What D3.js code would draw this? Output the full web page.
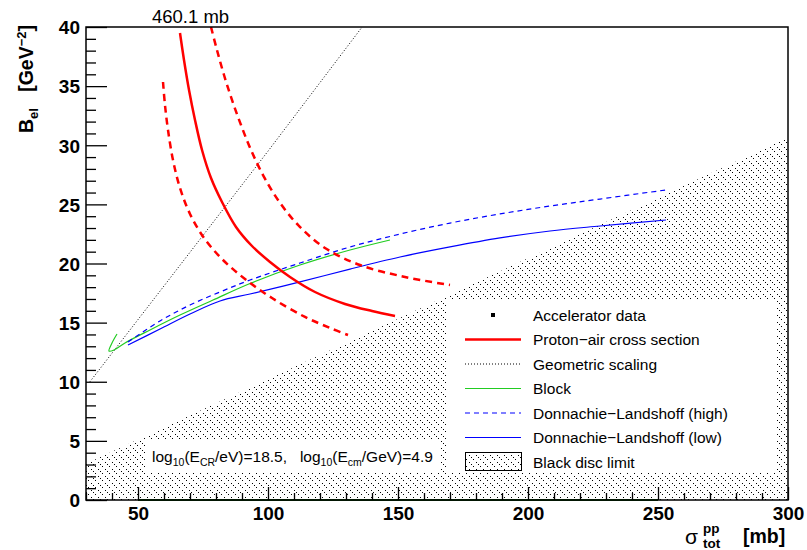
<!DOCTYPE html>
<html><head><meta charset="utf-8">
<script src="https://cdn.jsdelivr.net/npm/d3@7"></script>
<style>
body{margin:0;background:#fff}
svg{display:block}
text{font-family:"Liberation Sans",Arial,Helvetica,sans-serif}
</style>
</head><body>
<svg id="c" width="807" height="550"></svg>
<script>
// ---------- data (sigma_tot^pp [mb], B_el [GeV^-2]) ----------
const protonAir = [[66.15,39.49],[67.69,37.21],[69.62,34.67],[71.92,32.14],[74.62,29.60],[78.08,27.23],[82.31,25.20],[87.69,23.09],[93.85,21.48],[100.77,20.13],[108.46,18.86],[118.08,17.59],[129.62,16.58],[140.0,15.98],[148.85,15.56]];
const protonAirLow = [[59.62,35.35],[60.38,33.40],[61.54,31.29],[63.46,28.75],[66.15,26.39],[70.0,24.19],[75.38,22.16],[82.31,20.38],[91.15,18.69],[101.54,17.08],[114.23,15.48],[123.85,14.55],[130.77,13.95]];
const protonAirHigh = [[78.08,40.0],[80.38,38.05],[83.08,35.94],[86.15,33.83],[89.62,31.71],[93.46,29.60],[98.08,27.48],[103.85,25.37],[111.54,23.26],[121.92,21.31],[135.38,19.87],[152.69,18.86],[170.0,18.18]];
const geometric = [[31.5,10.0],[60,18.1],[100,29.5],[136.2,40.0]];
const block = [[41.92,14.04],[40.0,13.28],[38.85,12.60],[40.77,12.68],[45.0,13.28],[54.62,14.38],[66.15,15.64],[78.85,16.91],[93.08,18.31],[112.31,19.87],[131.54,21.14],[146.92,21.99]];
const dlHigh = [[46.15,13.36],[58.46,15.14],[70.0,16.49],[81.54,17.59],[93.08,18.60],[112.31,20.04],[131.54,21.40],[150.77,22.49],[170.0,23.42],[189.23,24.19],[208.46,24.86],[227.69,25.45],[253.08,26.22]];
const dlLow = [[46.15,13.11],[58.46,14.46],[70.0,15.73],[81.54,16.83],[93.08,17.42],[112.31,18.44],[131.54,19.53],[150.77,20.55],[170.0,21.40],[189.23,22.16],[208.46,22.75],[227.69,23.17],[253.08,23.68]];
const acceleratorBase = [[50,0],[250,0]];
const blackDisc = [[30,0],[30,3.066],[300,30.66],[300,0]];
const xMajorTicks = [50,100,150,200,250,300];
const yMajorTicks = [0,5,10,15,20,25,30,35,40];
const legendLabels = ["Accelerator data","Proton\u2212air cross section","Geometric scaling","Block","Donnachie\u2212Landshoff (high)","Donnachie\u2212Landshoff (low)","Black disc limit"];

// ---------- layout ----------
const svg = d3.select("#c");
const x = d3.scaleLinear().domain([30,300]).range([86,788]);
const y = d3.scaleLinear().domain([0,40]).range([500,27]);

const defs = svg.append("defs");
const pat = defs.append("pattern").attr("id","hatch").attr("patternUnits","userSpaceOnUse")
  .attr("width",7).attr("height",7);
[[0,0],[2,2],[4,4]].forEach(p=>pat.append("rect").attr("x",p[0]).attr("y",p[1]).attr("width",1).attr("height",1).attr("fill","#000"));
defs.append("clipPath").attr("id","plotclip").append("rect").attr("x",86).attr("y",27).attr("width",702).attr("height",473);

const line = d3.line().x(d=>x(d[0])).y(d=>y(d[1])).curve(d3.curveCatmullRom.alpha(0.5));
const straight = d3.line().x(d=>x(d[0])).y(d=>y(d[1]));

const plot = svg.append("g").attr("clip-path","url(#plotclip)");
// black disc hatch
plot.append("path").attr("d",straight(blackDisc)+"Z").attr("fill","url(#hatch)").attr("stroke","none");

// annotation box
plot.append("rect").attr("x",146).attr("y",440).attr("width",295).attr("height",33).attr("fill","#fff");

// curves
plot.append("path").attr("d",straight(geometric)).attr("fill","none").attr("stroke","#000").attr("stroke-width",1).attr("stroke-dasharray","1,2");
plot.append("path").attr("d",line(block)).attr("fill","none").attr("stroke","#22cc22").attr("stroke-width",1.2);
plot.append("path").attr("d",line(dlHigh)).attr("fill","none").attr("stroke","#0000ff").attr("stroke-width",1.2).attr("stroke-dasharray","5,4");
plot.append("path").attr("d",line(dlLow)).attr("fill","none").attr("stroke","#0000ff").attr("stroke-width",1.2);
plot.append("path").attr("d",line(protonAirLow)).attr("fill","none").attr("stroke","#ff0000").attr("stroke-width",2.5).attr("stroke-dasharray","7,5");
plot.append("path").attr("d",line(protonAirHigh)).attr("fill","none").attr("stroke","#ff0000").attr("stroke-width",2.5).attr("stroke-dasharray","7,5");
plot.append("path").attr("d",line(protonAir)).attr("fill","none").attr("stroke","#ff0000").attr("stroke-width",2.5);

// legend
const lg = svg.append("g");
const lx0 = 446, ly0 = 300, lw = 330, lh = 173;
lg.append("rect").attr("x",lx0).attr("y",ly0).attr("width",lw).attr("height",lh).attr("fill","#fff");
const rowY = d3.scaleLinear().domain([0,6]).range([315,462]);
const styles = [
  {type:"marker"},
  {stroke:"#ff0000",w:2.5,dash:null},
  {stroke:"#000",w:1,dash:"1,2"},
  {stroke:"#22cc22",w:1.2,dash:null},
  {stroke:"#0000ff",w:1.2,dash:"5,4"},
  {stroke:"#0000ff",w:1.2,dash:null},
  {type:"fill"}
];
legendLabels.forEach((lab,i)=>{
  const cy = rowY(i);
  const s = styles[i];
  if(s.type==="marker"){
    lg.append("rect").attr("x",491).attr("y",cy-2).attr("width",4).attr("height",4).attr("fill","#000");
  } else if(s.type==="fill"){
    lg.append("rect").attr("x",465.5).attr("y",cy-9.5).attr("width",56).attr("height",18).attr("fill","url(#hatch)").attr("stroke","#000").attr("stroke-width",1);
  } else {
    const l = lg.append("line").attr("x1",465).attr("x2",521).attr("y1",cy).attr("y2",cy)
      .attr("stroke",s.stroke).attr("stroke-width",s.w);
    if(s.dash) l.attr("stroke-dasharray",s.dash);
  }
  lg.append("text").attr("x",533).attr("y",cy+5.5).attr("font-size",15.5).attr("fill","#000").text(lab);
});

// annotation text
const ann = svg.append("text").attr("x",152).attr("y",462).attr("font-size",15.5).attr("fill","#000").style("white-space","pre");
ann.append("tspan").text("log");
ann.append("tspan").attr("font-size",10.5).attr("dy",4).text("10");
ann.append("tspan").attr("dy",-4).text("(E");
ann.append("tspan").attr("font-size",10.5).attr("dy",4).text("CR");
ann.append("tspan").attr("dy",-4).text("/eV)=18.5,   log");
ann.append("tspan").attr("font-size",10.5).attr("dy",4).text("10");
ann.append("tspan").attr("dy",-4).text("(E");
ann.append("tspan").attr("font-size",10.5).attr("dy",4).text("cm");
ann.append("tspan").attr("dy",-4).text("/GeV)=4.9");

// baseline (dark green)
svg.append("path").attr("d",straight(acceleratorBase)).attr("stroke","#0b5a0b").attr("stroke-width",2).attr("fill","none");

// frame
svg.append("rect").attr("x",86).attr("y",27).attr("width",702).attr("height",473).attr("fill","none").attr("stroke","#000").attr("stroke-width",1.5);

// axes
const xMinor = d3.range(30,301,10).filter(v=>!xMajorTicks.includes(v));
const yMinor = d3.range(0,41,1).filter(v=>v%5!==0);
svg.append("g").attr("transform","translate(0,500)")
  .call(d3.axisBottom(x).tickValues(xMajorTicks).tickSize(-13).tickPadding(7).tickFormat(d3.format("d")));
svg.append("g").attr("transform","translate(0,500)")
  .call(d3.axisBottom(x).tickValues(xMinor).tickSize(-7).tickFormat(""));
const axY = svg.append("g").attr("transform","translate(86,0)")
  .call(d3.axisLeft(y).tickValues(yMajorTicks).tickSize(-21).tickPadding(6).tickFormat(d3.format("d")));
svg.append("g").attr("transform","translate(86,0)")
  .call(d3.axisLeft(y).tickValues(yMinor).tickSize(-10).tickFormat(""));
svg.selectAll(".domain").remove();
svg.selectAll(".tick line").attr("stroke","#000").attr("stroke-width",1.3);
svg.selectAll(".tick text").attr("font-size",19).attr("font-weight","bold").attr("fill","#000")
  .attr("font-family",'"Liberation Sans",Arial,sans-serif');
axY.selectAll(".tick text").attr("dy","0.36em");

// top label
svg.append("text").attr("x",152).attr("y",23).attr("font-size",18.5).attr("fill","#000").text("460.1 mb");

// y title
const yt = svg.append("text").attr("transform","translate(33,25) rotate(-90)").attr("text-anchor","end")
  .attr("font-size",19.5).attr("font-weight","bold").attr("fill","#000").style("white-space","pre");
yt.append("tspan").text("B");
yt.append("tspan").attr("font-size",13).attr("dy",5).text("el");
yt.append("tspan").attr("dy",-5).text("   [GeV");
yt.append("tspan").attr("font-size",13).attr("dy",-7).text("\u22122");
yt.append("tspan").attr("dy",7).text("]");

// x title
const xt = svg.append("g").attr("fill","#000");
xt.append("text").attr("x",685).attr("y",544).attr("font-size",21).attr("font-family","'DejaVu Sans',sans-serif").text("\u03c3");
xt.append("text").attr("x",703).attr("y",533).attr("font-size",13.5).attr("font-weight","bold").text("pp");
xt.append("text").attr("x",703).attr("y",548).attr("font-size",13.5).attr("font-weight","bold").text("tot");
xt.append("text").attr("x",743).attr("y",543).attr("font-size",19.5).attr("font-weight","bold").text("[mb]");
</script>
</body></html>
